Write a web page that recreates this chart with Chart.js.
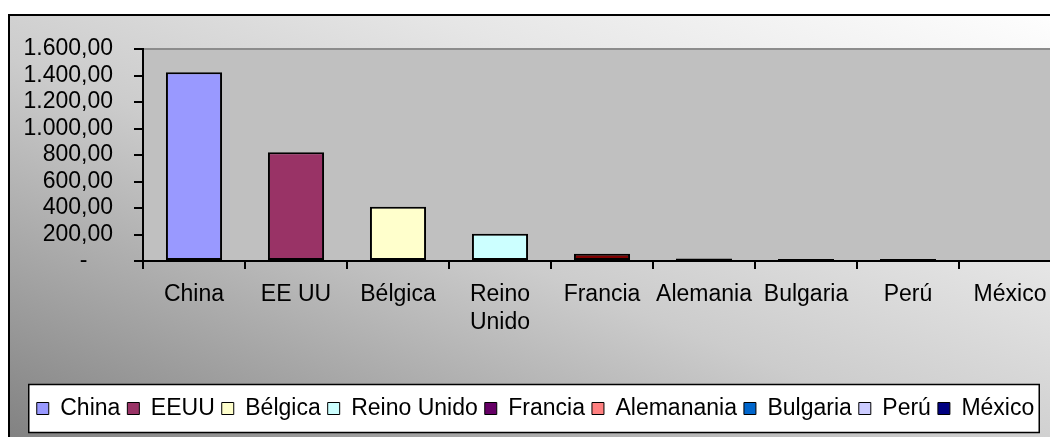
<!DOCTYPE html>
<html>
<head>
<meta charset="utf-8">
<script src="https://cdn.jsdelivr.net/npm/chart.js@4"></script>
<style>
  html, body { margin: 0; padding: 0; background: #ffffff; overflow: hidden; }
  #wrap { width: 1070px; height: 437px; }
</style>
</head>
<body>
<div id="wrap"><canvas id="c" width="1070" height="437"></canvas></div>
<script>
// ---- data ----
const categories = ['China', 'EE UU', 'Bélgica', ['Reino', 'Unido'], 'Francia', 'Alemania', 'Bulgaria', 'Perú', 'México'];
const legendLabels = ['China', 'EEUU', 'Bélgica', 'Reino Unido', 'Francia', 'Alemanania', 'Bulgaria', 'Perú', 'México'];
const values = [1425, 820, 410, 205, 55, 18, 15, 15, 1];
const barColors = ['#9999FF', '#993366', '#FFFFCC', '#CCFFFF', '#800000', '#FF8080', '#0066CC', '#CCCCFF', '#000080'];
const legendColors = ['#9999FF', '#993366', '#FFFFCC', '#CCFFFF', '#660066', '#FF8080', '#0066CC', '#CCCCFF', '#000080'];
const yMin = 0;
const yMax = 1600;
const yStep = 200;

const FONT = '"Liberation Sans", Arial, Helvetica, sans-serif';

function fmtEs(v) {
  if (v === 0) return '-    ';
  const parts = v.toFixed(2).split('.');
  return parts[0].replace(/\B(?=(\d{3})+(?!\d))/g, '.') + ',' + parts[1];
}

const backdrop = {
  id: 'backdrop',
  beforeDraw(chart) {
    const ctx = chart.ctx;
    const W = chart.width, H = chart.height;
    const x0 = 9, y0 = 15, w = W + 10 - x0, h = H + 10 - y0;
    // outer gradient (diagonal, normalized to the box)
    ctx.save();
    ctx.translate(x0, y0);
    ctx.scale(w, h);
    const g = ctx.createLinearGradient(0, 1, 1, 0);
    g.addColorStop(0, '#808080');
    g.addColorStop(0.45, '#cccccc');
    g.addColorStop(0.7, '#e6e6e6');
    g.addColorStop(1, '#ffffff');
    ctx.fillStyle = g;
    ctx.fillRect(0, 0, 1, 1);
    ctx.restore();
    // outer border (top & left visible)
    ctx.save();
    ctx.strokeStyle = '#000';
    ctx.lineWidth = 2;
    ctx.beginPath();
    ctx.moveTo(x0, H + 5);
    ctx.lineTo(x0, y0);
    ctx.lineTo(W + 5, y0);
    ctx.stroke();
    // plot area
    const a = chart.chartArea;
    ctx.fillStyle = '#C0C0C0';
    ctx.fillRect(a.left, a.top, a.right - a.left, a.bottom - a.top);
    ctx.strokeStyle = '#8c8c8c';
    ctx.lineWidth = 2;
    ctx.beginPath();
    ctx.moveTo(a.left, a.top);
    ctx.lineTo(a.right + 5, a.top);
    ctx.stroke();
    // legend box
    const lg = chart.legend;
    if (lg && lg.legendHitBoxes && lg.legendHitBoxes.length) {
      const hb = lg.legendHitBoxes;
      const l = hb[0].left - 8;
      const r = hb[hb.length - 1].left + hb[hb.length - 1].width + 5;
      const cy = hb[0].top + hb[0].height / 2;
      ctx.fillStyle = '#ffffff';
      ctx.fillRect(l, cy - 24, r - l, 48);
      ctx.strokeStyle = '#000';
      ctx.lineWidth = 1.5;
      ctx.strokeRect(l, cy - 24, r - l, 48);
    }
    ctx.restore();
  }
};

new Chart(document.getElementById('c'), {
  type: 'bar',
  data: {
    labels: categories,
    datasets: [{
      data: values,
      backgroundColor: barColors,
      borderColor: '#000000',
      borderWidth: 2,
      borderSkipped: false,
      barPercentage: 0.55,
      categoryPercentage: 1.0
    }]
  },
  options: {
    responsive: false,
    animation: false,
    devicePixelRatio: 1,
    layout: { padding: { left: 10, right: 9, top: 49, bottom: 7 } },
    plugins: {
      tooltip: { enabled: false },
      title: { display: false },
      legend: {
        position: 'bottom',
        onClick: null,
        labels: {
          color: '#000',
          font: { family: FONT, size: 23 },
          boxWidth: 12,
          boxHeight: 12,
          padding: 7,
          generateLabels: () => legendLabels.map((t, i) => ({
            text: t,
            fillStyle: legendColors[i],
            strokeStyle: '#000',
            lineWidth: 1,
            hidden: false,
            index: i
          }))
        }
      }
    },
    scales: {
      x: {
        ticks: { color: '#000', font: { family: FONT, size: 23 }, padding: 12, maxRotation: 0, autoSkip: false },
        grid: { offset: true, drawOnChartArea: false, drawTicks: true, tickLength: 8, color: '#000', lineWidth: 2 },
        border: { display: true, color: '#000', width: 2 },
        afterFit: (s) => { s.height = 129; }
      },
      y: {
        min: yMin,
        max: yMax,
        ticks: { stepSize: yStep, autoSkip: false, color: '#000', font: { family: FONT, size: 23 }, padding: 21, callback: (v) => fmtEs(v) },
        grid: { drawOnChartArea: false, drawTicks: true, tickLength: 9, color: '#000', lineWidth: 2 },
        border: { display: true, color: '#000', width: 2 },
        afterFit: (s) => { s.width = 133; }
      }
    }
  },
  plugins: [backdrop]
});
</script>
</body>
</html>
